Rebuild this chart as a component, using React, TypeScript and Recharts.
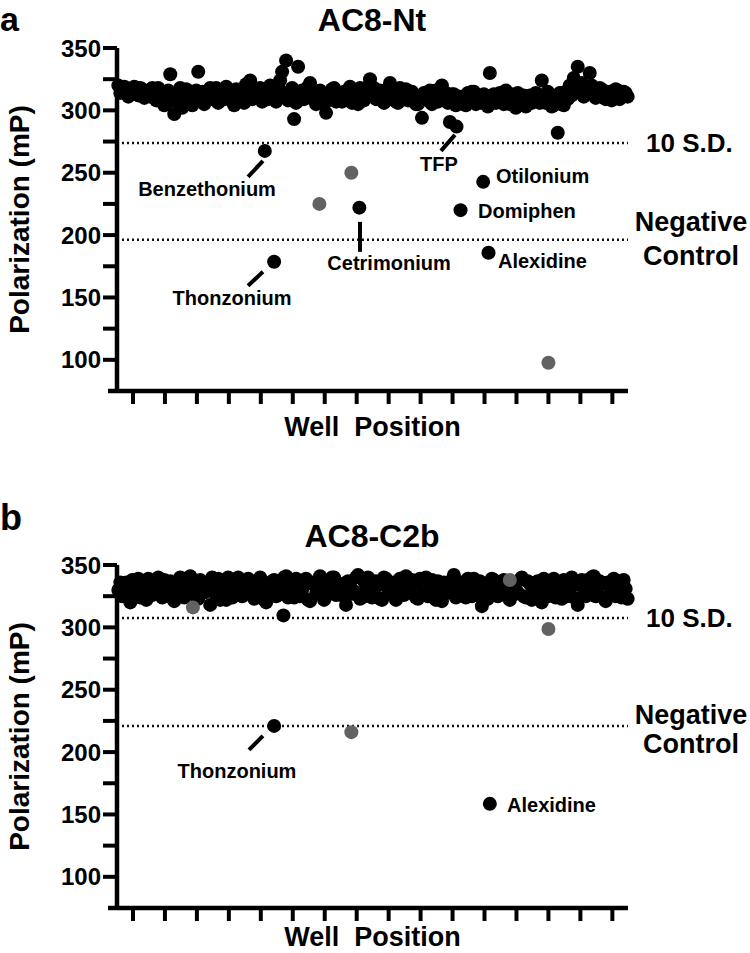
import React from "react";
import { ScatterChart, Scatter, XAxis, YAxis, ReferenceLine, ReferenceDot } from "recharts";

const FONT = "'Liberation Sans', Arial, Helvetica, sans-serif";

// AC8-Nt screen: polarization (mP), wells 2, 5, 8, ... of the 384-well plate
const ntWells = [
  320, 316, 318, 314, 319, 312, 317, 315,
  311, 316, 318, 309, 305, 329, 297, 313,
  302, 317, 314, 308, 331, 315, 310, 318,
  312, 306, 316, 319, 310, 304, 314, 317,
  321, 324, 318, 311, 307, 315, 320, 313,
  318, 331, 340, 312, 293, 335, 316, 310,
  322, 315, 309, 306, 298, 313, 318, 311,
  307, 314, 319, 310, 305, 316, 312, 325,
  318, 311, 315, 308, 322, 314, 306, 313,
  317, 309, 312, 305, 294, 313, 316, 310,
  307, 320, 314, 308, 313, 306, 311, 304,
  309, 315, 312, 306, 310, 330, 313, 307,
  311, 316, 305, 309, 314, 308, 303, 312,
  309, 313, 324, 306, 310, 304, 311, 307,
  315, 320, 326, 335, 322, 318, 330, 316,
  313, 317, 309, 315, 311, 316, 312, 314,
];
// the wells in between (3.5, 6.5, ...)
const ntWellsB = [
  314, 319, 311, 317, 313, 318, 310, 314,
  318, 308, 313, 304, 316, 310, 307, 318,
  309, 312, 304, 316, 311, 305, 316, 309,
  318, 312, 309, 313, 307, 317, 310, 306,
  314, 309, 313, 318, 312, 309, 316, 307,
  324, 314, 308, 318, 306, 313, 309, 319,
  310, 305, 316, 312, 308, 317, 307, 314,
  315, 309, 306, 314, 318, 308, 319, 313,
  309, 316, 306, 317, 310, 307, 318, 309,
  308, 315, 305, 311, 314, 308, 305, 316,
  313, 309, 306, 313, 304, 311, 308, 314,
  315, 305, 309, 313, 303, 310, 306, 314,
  305, 310, 313, 302, 308, 312, 309, 306,
  314, 306, 311, 315, 303, 309, 314, 304,
  309, 312, 317, 321, 311, 314, 320, 310,
  318, 310, 314, 308, 317, 309, 315, 311,
];
const ntHitWell = [112, 119, 183, 251, 256, 259, 276, 280, 332];
const ntHitMp = [267.5, 178.6, 222, 290.7, 287, 220, 242.7, 185.8, 282];
const ntGreyWell = [153, 177, 325];
const ntGreyMp = [225, 250, 97.7];

// AC8-C2b screen
const c2bWells = [
  330, 325, 336, 320, 333, 339, 327, 322,
  335, 329, 340, 324, 332, 337, 321, 328,
  334, 326, 341, 331, 323, 336, 329, 318,
  333, 339, 327, 322, 335, 330, 340, 325,
  331, 337, 323, 328, 336, 320, 333, 338,
  326, 332, 341, 329, 324, 335, 330, 339,
  321, 334, 328, 337, 325, 331, 340, 327,
  333, 318, 336, 329, 342, 324, 331, 338,
  327, 334, 322, 339, 330, 336, 325, 332,
  341, 328, 335, 323, 333, 340, 326, 331,
  337, 321, 334, 329, 342, 327, 336, 324,
  332, 339, 326, 317, 334, 330, 338, 325,
  331, 336, 322, 333, 328, 340, 324, 335,
  329, 337, 320, 332, 326, 339, 331, 323,
  336, 328, 334, 318, 338, 325, 332, 341,
  327, 335, 321, 333, 339, 328, 324, 331,
];
const c2bWellsB = [
  336, 331, 326, 338, 327, 324, 334, 339,
  326, 336, 330, 338, 325, 330, 335, 340,
  324, 339, 331, 325, 338, 328, 335, 340,
  326, 322, 336, 340, 324, 337, 327, 335,
  339, 326, 334, 340, 322, 330, 337, 325,
  336, 340, 324, 336, 339, 325, 338, 322,
  336, 327, 341, 322, 334, 340, 326, 335,
  325, 337, 327, 340, 323, 337, 340, 324,
  337, 323, 340, 327, 335, 322, 339, 326,
  330, 338, 324, 339, 327, 325, 338, 322,
  326, 336, 328, 338, 324, 335, 326, 339,
  325, 328, 337, 333, 323, 339, 326, 336,
  338, 325, 336, 327, 338, 325, 337, 322,
  336, 325, 339, 325, 337, 324, 335, 338,
  325, 340, 323, 334, 326, 338, 340, 325,
  337, 324, 336, 327, 325, 337, 338, 323,
];
const c2bHitWell = [119, 126, 281];
const c2bHitMp = [221, 309.6, 158.5];
const c2bGreyWell = [58, 177, 296, 325];
const c2bGreyMp = [316, 216, 338, 298.7];

const ntCutoffs = { sd: 273.9, neg: 196.2 };
const c2bCutoffs = { sd: 307.5, neg: 221 };

const wellTicks = [13, 37, 61, 85, 109, 133, 157, 181, 205, 229, 253, 277, 301, 325, 349, 373];
const mpTicks = [100, 125, 150, 175, 200, 225, 250, 275, 300, 325, 350];

// compound call-outs: text anchored in data coords (well, mP)
const ntNotes = [
  { text: "Benzethonium", well: 68.6, mp: 231.4, anchor: "middle" },
  { text: "Thonzonium", well: 87.4, mp: 144.1, anchor: "middle" },
  { text: "Cetrimonium", well: 205.3, mp: 172.2, anchor: "middle" },
  { text: "TFP", well: 242.8, mp: 251.5, anchor: "middle" },
  { text: "Otilonium", well: 285.6, mp: 241.9, anchor: "start" },
  { text: "Domiphen", well: 272.1, mp: 213.8, anchor: "start" },
  { text: "Alexidine", well: 287.1, mp: 173.8, anchor: "start" },
];
const ntLeaders = [
  [110.6, 259.5, 99.4, 246.7],
  [110.6, 170.6, 99.4, 159.4],
  [183.5, 210.6, 183.5, 186.6],
  [254.8, 280.3, 244.3, 267.5],
];
const c2bNotes = [
  { text: "Thonzonium", well: 91.1, mp: 179.4, anchor: "middle" },
  { text: "Alexidine", well: 293.9, mp: 152.2, anchor: "start" },
];
const c2bLeaders = [[110.6, 213, 100.1, 201.8]];

const toPts = (xs: number[], ys: number[]) => xs.map((x, i) => ({ x, y: ys[i] }));

const dot = (fill: string) => (p: any) => <circle cx={p.cx} cy={p.cy} r={7} fill={fill} />;

const txt = { fontFamily: FONT, fontWeight: 700, fill: "#000" } as const;

function Panel({
  top, height, marginTop, axisH, labelGap, letter, letterY, letterSize, title, titleY,
  wells, wellsB, hitWell, hitMp, greyWell, greyMp, cut, notes, leaders, negUp, negDown,
}: any) {
  const band = [
    ...wells.map((v: number, i: number) => ({ x: 3 * i + 2, y: v })),
    ...wellsB.map((v: number, i: number) => ({ x: 3 * i + 3.5, y: v })),
  ];
  const sdLabel = (p: any) => {
    const { x, y, width } = p.viewBox;
    return (
      <text x={x + width + 18} y={y + 9} fontSize={26} {...txt}>
        10 S.D.
      </text>
    );
  };
  const negLabel = (p: any) => {
    const { x, y, width } = p.viewBox;
    const cx = x + width + 63;
    return (
      <text fontSize={27} textAnchor="middle" {...txt}>
        <tspan x={cx} y={y + negUp}>Negative</tspan>
        <tspan x={cx} y={y + negDown}>Control</tspan>
      </text>
    );
  };
  return (
    <div style={{ position: "absolute", left: 0, top, width: 750, height }}>
      <ScatterChart width={750} height={height} margin={{ top: marginTop, right: 122, bottom: height - marginTop - 343 - axisH, left: 0 }}>
        <XAxis
          type="number"
          dataKey="x"
          domain={[1, 384.75]}
          ticks={wellTicks}
          interval={0}
          height={axisH}
          tickFormatter={() => ""}
          tickSize={13}
          axisLine={{ stroke: "#000", strokeWidth: 4.5 }}
          tickLine={{ stroke: "#000", strokeWidth: 4 }}
          label={(p: any) => (
            <text x={p.viewBox.x + p.viewBox.width / 2} y={p.viewBox.y + labelGap} textAnchor="middle" fontSize={27} {...txt}>
              {"Well\u00a0\u00a0Position"}
            </text>
          )}
        />
        <YAxis
          type="number"
          dataKey="y"
          domain={[75, 350]}
          ticks={mpTicks}
          interval={0}
          width={117}
          tickSize={14}
          tickMargin={2}
          tickFormatter={(v: number) => (v % 50 === 0 ? String(v) : "")}
          tick={{ fontSize: 24, fontFamily: FONT, fontWeight: 700, fill: "#000" }}
          axisLine={{ stroke: "#000", strokeWidth: 4.5 }}
          tickLine={{ stroke: "#000", strokeWidth: 4 }}
          label={(p: any) => {
            const bx = p.viewBox.x + 29;
            const cy = p.viewBox.y + p.viewBox.height / 2;
            return (
              <text x={bx} y={cy} transform={`rotate(-90, ${bx}, ${cy})`} textAnchor="middle" fontSize={28} {...txt}>
                Polarization (mP)
              </text>
            );
          }}
        />
        <ReferenceLine
          ifOverflow="visible"
          segment={[{ x: -5.76, y: 75 }, { x: 1, y: 75 }]}
          stroke="#000"
          strokeWidth={4.5}
        />
        <ReferenceLine y={cut.sd} stroke="#111" strokeWidth={2.5} strokeDasharray="2 3" label={sdLabel} />
        <ReferenceLine y={cut.neg} stroke="#111" strokeWidth={2.5} strokeDasharray="2 3" label={negLabel} />
        <Scatter data={band} shape={dot("#000")} isAnimationActive={false} />
        <Scatter data={toPts(greyWell, greyMp)} shape={dot("#626262")} isAnimationActive={false} />
        <Scatter data={toPts(hitWell, hitMp)} shape={dot("#000")} isAnimationActive={false} />
        {leaders.map((l: number[], i: number) => (
          <ReferenceLine
            key={"l" + i}
            segment={[{ x: l[0], y: l[1] }, { x: l[2], y: l[3] }]}
            stroke="#000"
            strokeWidth={4}
          />
        ))}
        {notes.map((n: any) => (
          <ReferenceDot
            key={n.text}
            x={n.well}
            y={n.mp}
            r={0}
            shape={(p: any) => (
              <text x={p.cx} y={p.cy} textAnchor={n.anchor} fontSize={20} {...txt}>
                {n.text}
              </text>
            )}
          />
        ))}
      </ScatterChart>
      <svg width={750} height={height} style={{ position: "absolute", left: 0, top: 0, pointerEvents: "none" }}>
        <text x={0} y={letterY} fontSize={letterSize} {...txt}>{letter}</text>
        <text x={372} y={titleY} textAnchor="middle" fontSize={32} {...txt}>{title}</text>
      </svg>
    </div>
  );
}

export default function App() {
  return (
    <div style={{ position: "absolute", left: 0, top: 0, width: 750, height: 953, background: "#fff" }}>
      <Panel
        top={0} height={470} marginTop={48} axisH={60} labelGap={45}
        letter="a" letterY={31} letterSize={34} title="AC8-Nt" titleY={31}
        wells={ntWells} wellsB={ntWellsB} hitWell={ntHitWell} hitMp={ntHitMp} greyWell={ntGreyWell} greyMp={ntGreyMp}
        cut={ntCutoffs} notes={ntNotes} leaders={ntLeaders} negUp={-9} negDown={25}
      />
      <Panel
        top={470} height={483} marginTop={95} axisH={45} labelGap={38}
        letter="b" letterY={60} letterSize={36} title="AC8-C2b" titleY={77}
        wells={c2bWells} wellsB={c2bWellsB} hitWell={c2bHitWell} hitMp={c2bHitMp} greyWell={c2bGreyWell} greyMp={c2bGreyMp}
        cut={c2bCutoffs} notes={c2bNotes} leaders={c2bLeaders} negUp={-2} negDown={27}
      />
    </div>
  );
}
